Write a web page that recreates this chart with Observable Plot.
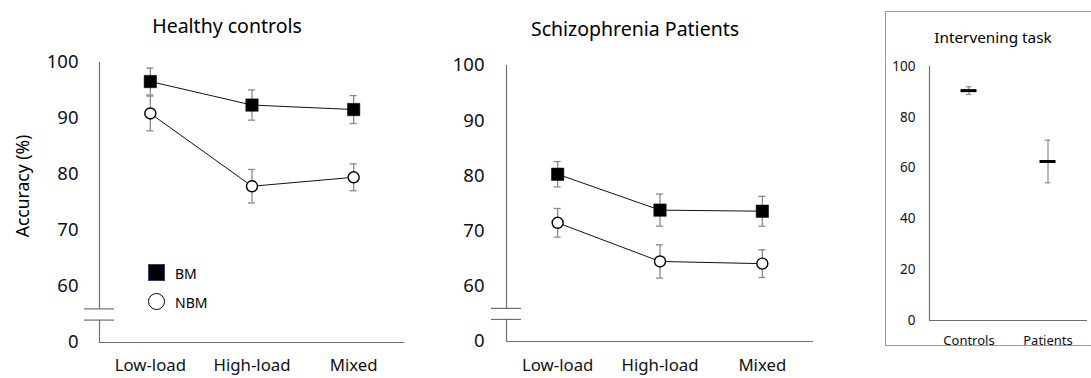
<!DOCTYPE html>
<html>
<head>
<meta charset="utf-8">
<script src="https://cdn.jsdelivr.net/npm/d3@7"></script>
<script src="https://cdn.jsdelivr.net/npm/@observablehq/plot@0.6"></script>
<style>
  html, body { margin: 0; padding: 0; background: #fff; overflow: hidden; }
  #root { position: relative; width: 1091px; height: 378px; font-family: "Noto Sans", "Open Sans", sans-serif; color: #000; overflow: hidden; }
  .abs { position: absolute; }
  .title { position: absolute; transform: translate(-50%, -50%); white-space: nowrap; }
  svg { overflow: visible; }
</style>
</head>
<body>
<div id="root"></div>
<script>
// ---- data ----
const conditions = ["Low-load", "High-load", "Mixed"];
const seriesNames = ["BM", "NBM"];
// Healthy controls
const hcBM = [96.6, 92.4, 91.6];
const hcBMerr = [2.4, 2.7, 2.5];
const hcNBM = [90.9, 77.9, 79.5];
const hcNBMerr = [3.1, 3.0, 2.4];
// Schizophrenia patients
const szBM = [80.3, 73.8, 73.6];
const szBMerr = [2.3, 2.9, 2.7];
const szNBM = [71.5, 64.5, 64.1];
const szNBMerr = [2.6, 3.0, 2.5];
// Intervening task
const groups = ["Controls", "Patients"];
const itMean = [90.5, 62.6];
const itErr = [1.5, 8.4];
// y axis with break: 50 stands for the "0" baseline
const accTickValues = [50, 60, 70, 80, 90, 100];
const accTickLabels = ["0", "60", "70", "80", "90", "100"];
const itTickValues = [0, 20, 40, 60, 80, 100];

const root = document.getElementById("root");
const FONT = "Noto Sans";
const AXIS = "#6e6e6e";
const ERR = "#8a8a8a";

function panel(bm, bmErr, nbm, nbmErr, o) {
  const rows = [];
  conditions.forEach((c, i) => {
    rows.push({series: seriesNames[0], i, v: bm[i], e: bmErr[i]});
    rows.push({series: seriesNames[1], i, v: nbm[i], e: nbmErr[i]});
  });
  const bmRows = rows.filter(d => d.series === "BM");
  const nbmRows = rows.filter(d => d.series === "NBM");
  const svg = Plot.plot({
    width: o.width, height: 378,
    marginLeft: o.ml, marginRight: o.mr, marginTop: o.mt, marginBottom: o.mb,
    x: {domain: [-0.5, 2.5]},
    y: {domain: [50, 100]},
    style: {fontFamily: FONT, background: "transparent", overflow: "visible", color: "#000"},
    marks: [
      // axis lines (with break)
      Plot.ruleX([-0.5], {y1: 56, y2: 100, stroke: AXIS, strokeWidth: 1.2}),
      Plot.ruleX([-0.5], {y1: 50, y2: 54, stroke: AXIS, strokeWidth: 1.2}),
      Plot.ruleY([54, 56], {x1: -0.5, x2: -0.5, insetLeft: -15, insetRight: -15, stroke: AXIS, strokeWidth: 1.2}),
      Plot.ruleY([50], {stroke: AXIS, strokeWidth: 1.2}),
      Plot.axisY({ticks: accTickValues, tickFormat: d => accTickLabels[accTickValues.indexOf(d)], tickSize: 0, tickPadding: o.tp, fontSize: 18.5, fill: "#111", label: null}),
      Plot.axisX({ticks: [0, 1, 2], tickFormat: i => conditions[i], tickSize: 0, tickPadding: o.xp, fontSize: 16.8, fill: "#111", label: null}),
      // error bars
      Plot.ruleX(rows, {x: "i", y1: d => d.v - d.e, y2: d => d.v + d.e, stroke: ERR, strokeWidth: 1.3}),
      Plot.ruleY(rows, {y: d => d.v - d.e, x1: "i", x2: "i", insetLeft: -3.5, insetRight: -3.5, stroke: ERR, strokeWidth: 1.3}),
      Plot.ruleY(rows, {y: d => d.v + d.e, x1: "i", x2: "i", insetLeft: -3.5, insetRight: -3.5, stroke: ERR, strokeWidth: 1.3}),
      // lines
      Plot.line(rows, {x: "i", y: "v", z: "series", stroke: "#111", strokeWidth: 1}),
      // markers
      Plot.dot(bmRows, {x: "i", y: "v", symbol: "square", r: 7, fill: "#000", stroke: "#000", strokeWidth: 0.5}),
      Plot.dot(nbmRows, {x: "i", y: "v", symbol: "circle", r: 5.5, fill: "#fff", stroke: "#000", strokeWidth: 1.4})
    ]
  });
  svg.style.position = "absolute";
  svg.style.left = o.left + "px";
  svg.style.top = "0px";
  root.appendChild(svg);
}

panel(hcBM, hcBMerr, hcNBM, hcNBMerr, {left: 0, width: 410, ml: 99, mr: 6, mt: 62, mb: 36, tp: 21, xp: 17});
panel(szBM, szBMerr, szNBM, szNBMerr, {left: 410, width: 410, ml: 96, mr: 7, mt: 65, mb: 37, tp: 22, xp: 18});

// right panel box
const box = document.createElement("div");
box.className = "abs";
Object.assign(box.style, {left: "885px", top: "11px", width: "240px", height: "335px", border: "1px solid #9a9a9a", boxSizing: "border-box"});
root.appendChild(box);

const itRows = groups.map((g, i) => ({g, i, m: itMean[i], e: itErr[i]}));
const svg3 = Plot.plot({
  width: 206, height: 378,
  marginLeft: 44, marginRight: 4, marginTop: 66, marginBottom: 58,
  x: {domain: [-0.5, 1.5]},
  y: {domain: [0, 100]},
  style: {fontFamily: FONT, background: "transparent", overflow: "visible", color: "#000"},
  marks: [
    Plot.ruleX([-0.5], {y1: 0, y2: 100, stroke: AXIS, strokeWidth: 1.2}),
    Plot.ruleY([0], {stroke: AXIS, strokeWidth: 1.2}),
    Plot.axisY({ticks: itTickValues, tickSize: 0, tickPadding: 14, fontSize: 13.5, fill: "#111", label: null}),
    Plot.axisX({ticks: [0, 1], tickFormat: i => groups[i], tickSize: 0, tickPadding: 15, fontSize: 13, fill: "#111", label: null}),
    Plot.ruleX(itRows, {x: "i", y1: d => d.m - d.e, y2: d => d.m + d.e, stroke: ERR, strokeWidth: 1.2}),
    Plot.ruleY(itRows, {y: d => d.m - d.e, x1: "i", x2: "i", insetLeft: -2.7, insetRight: -2.7, stroke: ERR, strokeWidth: 1.2}),
    Plot.ruleY(itRows, {y: d => d.m + d.e, x1: "i", x2: "i", insetLeft: -2.7, insetRight: -2.7, stroke: ERR, strokeWidth: 1.2}),
    Plot.ruleY(itRows, {y: "m", x1: "i", x2: "i", insetLeft: -8, insetRight: -8, stroke: "#000", strokeWidth: 3})
  ]
});
svg3.style.position = "absolute";
svg3.style.left = "885px";
svg3.style.top = "0px";
root.appendChild(svg3);

// titles and labels
function addText(txt, x, y, size, extra) {
  const d = document.createElement("div");
  d.className = "title";
  d.textContent = txt;
  Object.assign(d.style, {left: x + "px", top: y + "px", fontSize: size + "px"}, extra || {});
  root.appendChild(d);
  return d;
}
addText("Healthy controls", 227, 25, 19.5);
addText("Schizophrenia Patients", 635, 28, 19.5);
addText("Intervening task", 993, 37, 15.3);
addText("Accuracy (%)", 22, 186, 17.5, {transform: "translate(-50%, -50%) rotate(-90deg)"});

// legend
const sq = document.createElement("div");
Object.assign(sq.style, {position: "absolute", left: "148px", top: "264px", width: "17px", height: "17px", background: "#000", border: "1px solid #2c3e6e", boxSizing: "border-box"});
root.appendChild(sq);
const ci = document.createElement("div");
Object.assign(ci.style, {position: "absolute", left: "148px", top: "293px", width: "17px", height: "17px", background: "#fff", border: "1.4px solid #000", borderRadius: "50%", boxSizing: "border-box"});
root.appendChild(ci);
addText(seriesNames[0], 175, 273, 14, {transform: "translate(0, -50%)"});
addText(seriesNames[1], 175, 302, 14, {transform: "translate(0, -50%)"});
</script>
</body>
</html>
